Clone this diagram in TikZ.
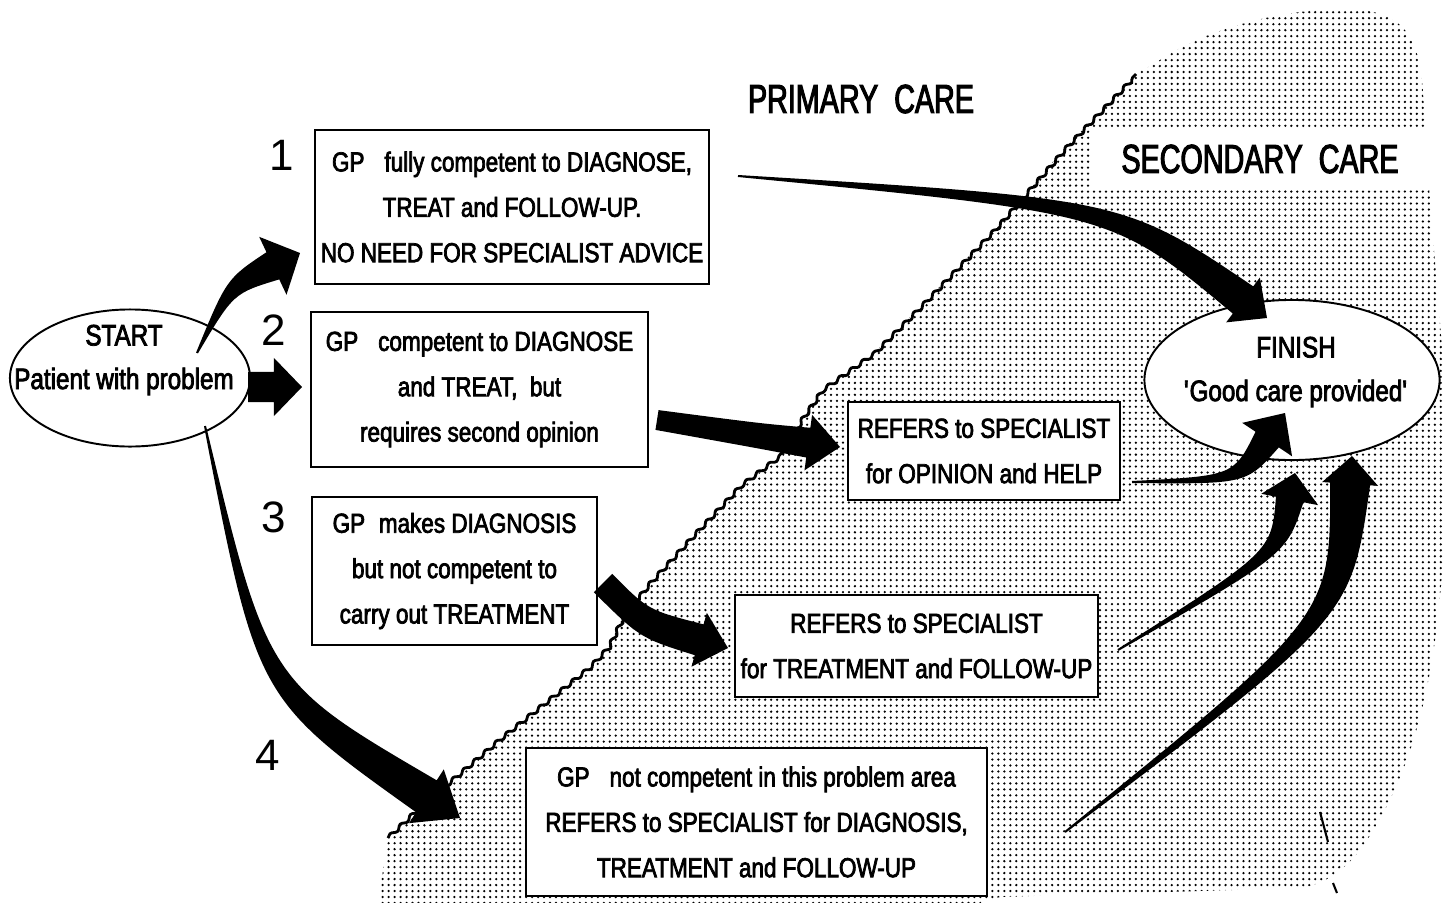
\documentclass[tikz,border=0pt]{standalone}
\usepackage{fontspec}
\setmainfont{Liberation Sans}[FakeStretch=0.82, FakeBold=2.6]
\newfontfamily\titlefont{Liberation Sans}[FakeStretch=0.71, FakeBold=2.6]
\newfontfamily\numfont{Liberation Sans}
\usetikzlibrary{shapes.geometric,calc,patterns.meta,decorations.pathmorphing}

\tikzset{
  box/.style={draw, line width=0.7pt, fill=white, inner sep=0pt,
    font=\fontsize{7.8}{12.9}\selectfont},
  oval/.style={draw, ellipse, line width=0.55pt, fill=white, inner sep=0pt},
  ovaltext/.style={font=\fontsize{8.4}{12.4}\selectfont},
  num/.style={font=\numfont\fontsize{12.5}{14}\selectfont},
  care/.style={font=\titlefont\fontsize{11.5}{13}\selectfont},
  halftone/.style={pattern={Dots[distance=1.7pt,radius=0.36pt]}},
  edge/.style={line width=0.8pt, decorate,
    decoration={snake, segment length=4pt, amplitude=0.5pt}}
}

% tail, bend, tip, tail width, neck width, head width, head length
\newcommand{\fatarrow}[7]{%
  \pgfmathsetmacro\fatail{#4*0.2845}%
  \pgfmathsetmacro\faneck{#5*0.2845}%
  \pgfmathsetmacro\famid{(#4+#5)*0.5*0.2845}%
  \pgfmathsetmacro\fahead{#6*0.2845}%
  \pgfmathsetmacro\falen{#7*0.2845}%
  \coordinate (fan) at ($(#3)!\falen pt!(#2)$);
  \fill ($(#1)!\fatail pt!90:(#2)$) .. controls ($(#2)!\famid pt!90:(#3)$) .. ($(fan)!\faneck pt!90:(#3)$)
    -- ($(fan)!\fahead pt!90:(#3)$) -- (#3) -- ($(fan)!\fahead pt!-90:(#3)$)
    -- ($(fan)!\faneck pt!-90:(#3)$) .. controls ($(#2)!\famid pt!-90:(#3)$) .. ($(#1)!\fatail pt!-90:(#2)$) -- cycle;
}

\begin{document}
\begin{tikzpicture}[x=0.01cm, y=-0.01cm, every text node part/.style={align=center}]
  \fill[white] (0,0) rectangle (1448,903);
  \useasboundingbox (0,0) rectangle (1448,903);

  \fill[halftone] (378,903) -- (388,838) -- (420,808) -- (459,775) -- (500,740) -- (550,700)
    -- (590,668) -- (607,650) -- (623,617) -- (647,587) -- (690,540) -- (740,487) -- (780,457)
    -- (800,423) -- (823,390) -- (871,356) -- (921,306) -- (993,231) -- (1064,149) -- (1136,74)
    -- (1157,62) .. controls (1210,25) and (1300,5) .. (1360,10) .. controls (1405,14) and (1420,40) .. (1423,93)
    -- (1430,200) -- (1443,360) -- (1445,520) .. controls (1440,640) and (1425,760) .. (1360,850)
    .. controls (1340,875) and (1320,885) .. (1300,888) -- (1000,897) -- (980,903) -- cycle;
  \draw[edge] (388,838) -- (420,808) -- (459,775) -- (500,740) -- (550,700)
    -- (590,668) -- (607,650) -- (623,617) -- (647,587) -- (690,540) -- (740,487) -- (780,457)
    -- (800,423) -- (823,390) -- (871,356) -- (921,306) -- (993,231) -- (1064,149) -- (1136,74);

  \node[care] (primary) at (861,99) {PRIMARY\ \ CARE};
  \node[care, fill=white, minimum width=3.4cm, minimum height=0.62cm] (secondary) at (1260,159) {SECONDARY\ \ CARE};

  \node[oval, minimum width=2.4cm, minimum height=1.37cm] (start) at (130,378) {};
  \node[ovaltext] (starttext) at ($(start.center)+(-6,-18)$) {START\\Patient with problem};
  \node[oval, minimum width=2.95cm, minimum height=1.6cm] (finish) at (1292,380) {};
  \node[ovaltext] (finishtext) at ($(finish.center)+(4,-8)$) {FINISH\\\textquotesingle Good care provided\textquotesingle};

  \node[box, minimum width=3.94cm, minimum height=1.54cm] (b1) at (512,207) {GP\enspace\ fully competent to DIAGNOSE,\\TREAT and FOLLOW-UP.\\NO NEED FOR SPECIALIST ADVICE};
  \node[box, minimum width=3.37cm, minimum height=1.55cm] (b2) at (479.5,389.5) {GP\enspace\ competent to DIAGNOSE\\and TREAT,\ \ but\\requires second opinion};
  \node[box, minimum width=2.85cm, minimum height=1.48cm] (b3) at (454.5,571) {GP\enspace makes DIAGNOSIS\\but not competent to\\carry out TREATMENT};
  \node[box, minimum width=2.72cm, minimum height=0.98cm] (b4) at (984,451) {REFERS to SPECIALIST\\for OPINION and HELP};
  \node[box, minimum width=3.63cm, minimum height=1.02cm] (b5) at (916.5,646) {REFERS to SPECIALIST\\for TREATMENT and FOLLOW-UP};
  \node[box, minimum width=4.61cm, minimum height=1.48cm] (b6) at (756.5,822) {GP\enspace\ not competent in this problem area\\REFERS to SPECIALIST for DIAGNOSIS,\\TREATMENT and FOLLOW-UP};

  \node[num] (n1) at (282,155) {1};
  \node[num] (n2) at (274,330) {2};
  \node[num] (n3) at (274,517) {3};
  \node[num] (n4) at (268,755) {4};

  \coordinate (a1t) at (197,353);  \coordinate (a1b) at (230,286);  \coordinate (a1h) at (300,253);
  \coordinate (a2t) at (248,387);  \coordinate (a2b) at (262,387);  \coordinate (a2h) at (302,387);
  \coordinate (a3t) at (205,426);  \coordinate (a3b) at (262,690);  \coordinate (a3h) at (460,818);
  \coordinate (a4t) at (738,176);  \coordinate (a4b) at (1118,206); \coordinate (a4h) at (1267,318);
  \coordinate (a5t) at (657,420);  \coordinate (a5b) at (760,436);  \coordinate (a5h) at (840,447);
  \coordinate (a6t) at (603,583);  \coordinate (a6b) at (644,624);  \coordinate (a6h) at (728,648);
  \coordinate (a7t) at (1132,482); \coordinate (a7b) at (1240,480); \coordinate (a7h) at (1285,413);
  \coordinate (a8t) at (1118,650); \coordinate (a8b) at (1279,553); \coordinate (a8h) at (1295,473);
  \coordinate (a9t) at (1065,832); \coordinate (a9b) at (1341,617); \coordinate (a9h) at (1352,456);

  \fatarrow{a1t}{a1b}{a1h}{1}{15}{32}{30}
  \fatarrow{a2t}{a2b}{a2h}{15}{15}{29}{28}
  \fatarrow{a3t}{a3b}{a3h}{1}{19}{32}{40}
  \fatarrow{a4t}{a4b}{a4h}{1}{17}{28}{30}
  \fatarrow{a5t}{a5b}{a5h}{10}{15}{28}{32}
  \fatarrow{a6t}{a6b}{a6h}{13}{16}{28}{30}
  \fatarrow{a7t}{a7b}{a7h}{1}{14}{30}{32}
  \fatarrow{a8t}{a8b}{a8h}{1}{14}{29}{27}
  \fatarrow{a9t}{a9b}{a9h}{1}{20}{28}{28}

  \draw[line width=0.6pt] (1320,812) -- (1328,842);
  \draw[line width=0.6pt] (1333,883) -- (1337,893);
\end{tikzpicture}
\end{document}
